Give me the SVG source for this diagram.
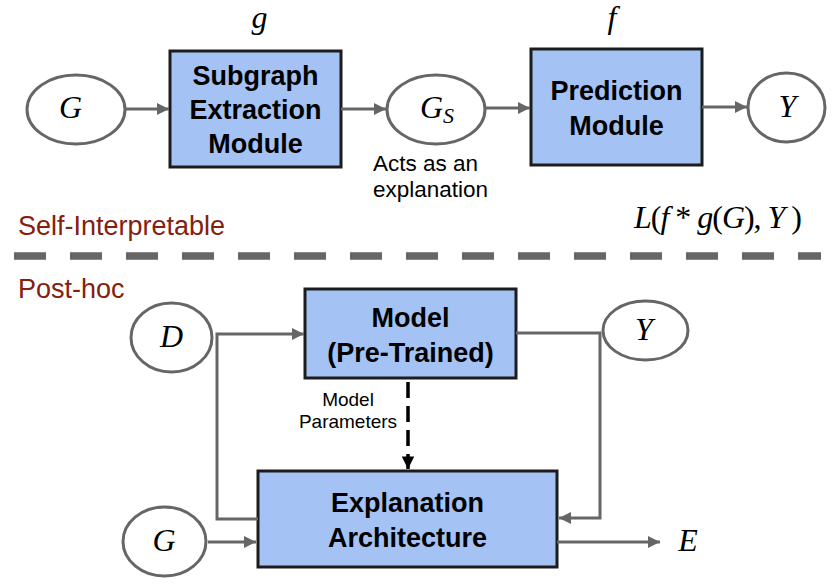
<svg xmlns="http://www.w3.org/2000/svg" width="835" height="586" viewBox="0 0 835 586">
<defs>
<style>
.box{fill:#a4c2f4;stroke:#1c1c1c;stroke-width:3}
.ell{fill:#fff;stroke:#666;stroke-width:3}
.bold{font-family:"Liberation Sans",Arial,sans-serif;font-weight:bold;font-size:27px;fill:#000;text-anchor:middle}
.math{font-family:"Liberation Serif","Times New Roman",serif;font-style:italic;font-size:32px;fill:#000}
.up{font-style:normal}
.sec{font-family:"Liberation Sans",Arial,sans-serif;font-size:27px;fill:#85200c}
.note{font-family:"Liberation Sans",Arial,sans-serif;font-size:22.5px;fill:#000}
.small{font-family:"Liberation Sans",Arial,sans-serif;font-size:19px;fill:#000;text-anchor:middle}
.conn{fill:none;stroke:#666;stroke-width:3}
</style>
<marker id="ah" viewBox="0 0 10 10" refX="10" refY="5" markerWidth="4" markerHeight="4" orient="auto" markerUnits="strokeWidth">
<path d="M0,0 L10,5 L0,10 z" fill="#666"/>
</marker>
<marker id="ahb" viewBox="0 0 10 10" refX="10" refY="5" markerWidth="3.6" markerHeight="3.6" orient="auto" markerUnits="strokeWidth">
<path d="M0,0 L10,5 L0,10 z" fill="#000"/>
</marker>
</defs>

<!-- Top section -->
<g id="G_top">
<ellipse class="ell" cx="76" cy="109.5" rx="49" ry="34.5"/>
<text class="math" x="70.5" y="118" text-anchor="middle">G</text>
</g>
<g id="subgraph">
<text class="math" x="259.5" y="28" text-anchor="middle">g</text>
<rect class="box" x="170" y="51" width="171" height="116"/>
<text class="bold" x="255.5" y="85">Subgraph</text>
<text class="bold" x="255.5" y="119">Extraction</text>
<text class="bold" x="255.5" y="153">Module</text>
</g>
<g id="Gs">
<ellipse class="ell" cx="436" cy="109.5" rx="49" ry="34.5"/>
<text class="math" x="420" y="118">G<tspan font-size="22" dy="5">S</tspan></text>
<text class="note" x="373" y="171">Acts as an</text>
<text class="note" x="373" y="197">explanation</text>
</g>
<g id="prediction">
<text class="math" x="612" y="28" text-anchor="middle">f</text>
<rect class="box" x="531" y="49" width="171" height="116"/>
<text class="bold" x="616.5" y="100">Prediction</text>
<text class="bold" x="616.5" y="135">Module</text>
</g>
<g id="Y_top">
<ellipse class="ell" cx="786.5" cy="107.5" rx="38.5" ry="34.5"/>
<text class="math" x="787.5" y="117" text-anchor="middle">Y</text>
</g>
<g id="loss">
<text class="math" x="634" y="228" font-size="26" textLength="168" lengthAdjust="spacing">L<tspan class="up">(</tspan>f <tspan class="up">*</tspan> g<tspan class="up">(</tspan>G<tspan class="up">),</tspan> Y <tspan class="up">)</tspan></text>
</g>

<g id="labels">
<text class="sec" x="18" y="235">Self-Interpretable</text>
<text class="sec" x="18" y="298">Post-hoc</text>
</g>
<g id="separator">
<line x1="14" y1="256" x2="821" y2="256" stroke="#666" stroke-width="7.5" stroke-dasharray="32 24"/>
</g>

<!-- Bottom section -->
<g id="D">
<ellipse class="ell" cx="171.5" cy="337.5" rx="40.5" ry="34.5"/>
<text class="math" x="171.5" y="347" text-anchor="middle">D</text>
</g>
<g id="model">
<rect class="box" x="305" y="289" width="211" height="89"/>
<text class="bold" x="410.5" y="327">Model</text>
<text class="bold" x="410.5" y="362">(Pre-Trained)</text>
</g>
<g id="Y_bottom">
<ellipse class="ell" cx="645.5" cy="330.5" rx="42.5" ry="29.5"/>
<text class="math" x="644" y="340" text-anchor="middle">Y</text>
</g>
<g id="explanation">
<rect class="box" x="258" y="471" width="299" height="96"/>
<text class="bold" x="407.5" y="512">Explanation</text>
<text class="bold" x="407.5" y="547">Architecture</text>
</g>
<g id="G_bottom">
<ellipse class="ell" cx="164.5" cy="541.5" rx="41.5" ry="34.5"/>
<text class="math" x="164" y="551" text-anchor="middle">G</text>
</g>
<g id="E">
<text class="math" x="688" y="551" text-anchor="middle">E</text>
</g>
<g id="param_label">
<text class="small" x="348" y="406">Model</text>
<text class="small" x="348" y="428">Parameters</text>
</g>

<g id="connectors">
<line class="conn" x1="125" y1="109" x2="169" y2="109" marker-end="url(#ah)"/>
<line class="conn" x1="341" y1="109" x2="386" y2="109" marker-end="url(#ah)"/>
<line class="conn" x1="485" y1="108" x2="530" y2="108" marker-end="url(#ah)"/>
<line class="conn" x1="702" y1="107" x2="747" y2="107" marker-end="url(#ah)"/>
<path class="conn" d="M258,519 H217 V334 H304" marker-end="url(#ah)"/>
<path class="conn" d="M516,333 H600 V518 H559" marker-end="url(#ah)"/>
<line class="conn" x1="557" y1="542" x2="660" y2="542" marker-end="url(#ah)"/>
<line class="conn" x1="208" y1="542" x2="256" y2="542" marker-end="url(#ah)"/>
<line x1="408" y1="382" x2="408" y2="469" stroke="#000" stroke-width="3.5" stroke-dasharray="16 8" marker-end="url(#ahb)"/>
</g>
</svg>
